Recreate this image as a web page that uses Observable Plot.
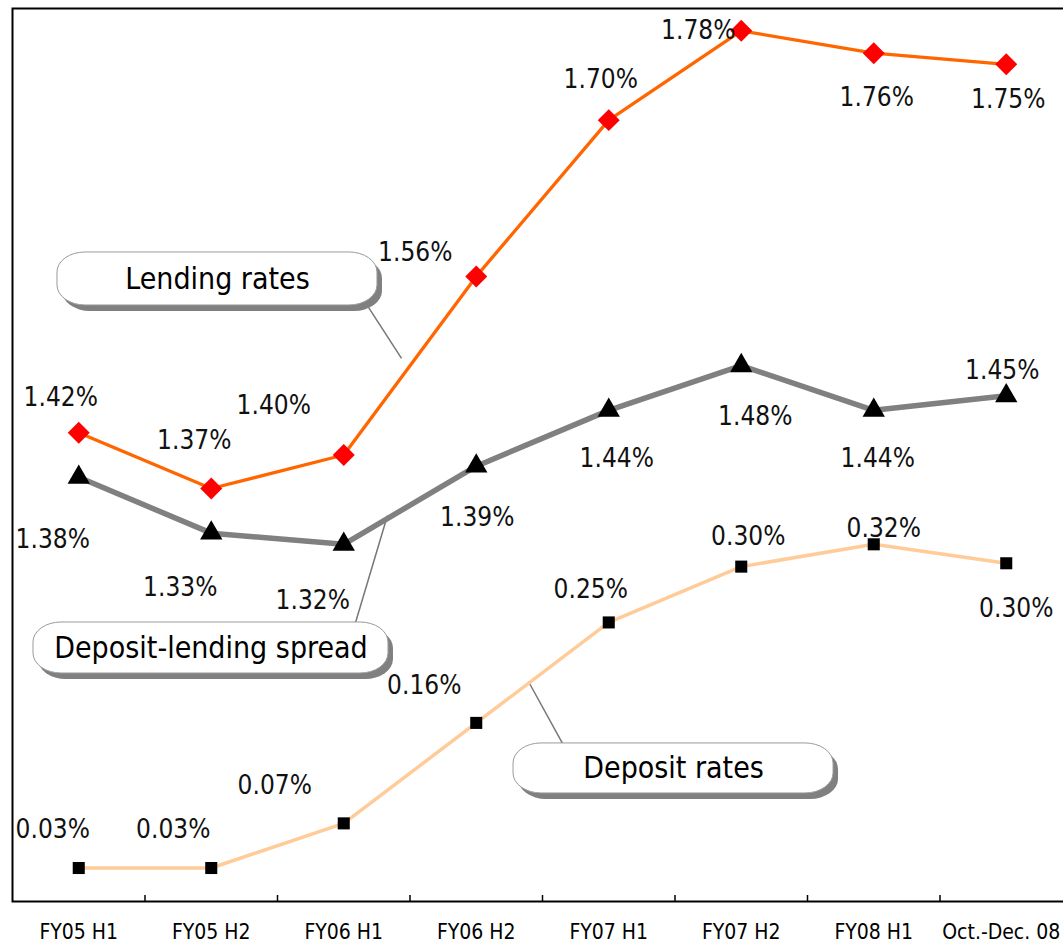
<!DOCTYPE html>
<html><head><meta charset="utf-8">
<script src="https://cdn.jsdelivr.net/npm/d3@7"></script>
<script src="https://cdn.jsdelivr.net/npm/@observablehq/plot@0.6"></script>
<style>
html,body{margin:0;padding:0;background:#fff;overflow:hidden}
#chart svg{display:block}
</style></head><body><div id="chart"></div>
<script>
// ---------------- data ----------------
const categories = ["FY05 H1","FY05 H2","FY06 H1","FY06 H2","FY07 H1","FY07 H2","FY08 H1","Oct.-Dec. 08"];
const lendingRates = [1.42, 1.37, 1.40, 1.56, 1.70, 1.78, 1.76, 1.75];
const depositLendingSpread = [1.38, 1.33, 1.32, 1.39, 1.44, 1.48, 1.44, 1.453];
const depositRates = [0.03, 0.03, 0.07, 0.16, 0.25, 0.30, 0.32, 0.303];
const seriesNames = ["Lending rates", "Deposit-lending spread", "Deposit rates"];
const primaryAxis = [1.0, 1.8];   // lending rates & spread
const secondaryAxis = [0.0, 0.8]; // deposit rates

// ---------------- layout (label nudges in px, callout anchors in data units) ----------------
const lendingLabelOffsets = [[-18,-35],[-17,-48],[-70,-49],[-61,-24],[-8,-40],[-43,0],[3,45],[2,35]];
const spreadLabelOffsets  = [[-26,62],[-31,55],[-31,56],[1,52],[8,48],[14,51],[4,48],[-4,-25]];
const depositLabelOffsets = [[-26,-38],[-38,-38],[-69,-38],[-52,-37],[-18,-33],[7,-30],[10,-16],[10,45]];

const toPrimary = v => v - secondaryAxis[0] + primaryAxis[0];

const series = [
  {name: seriesNames[0], values: lendingRates, map: v => v, stroke: "#FF6600", strokeWidth: 3.3,
   symbol: "diamond2", fill: "#FF0000", r: 9.9, offsets: lendingLabelOffsets},
  {name: seriesNames[1], values: depositLendingSpread, map: v => v, stroke: "#808080", strokeWidth: 5.5,
   symbol: "triangle", fill: "#000000", r: 8.3, offsets: spreadLabelOffsets},
  {name: seriesNames[2], values: depositRates, map: toPrimary, stroke: "#FFCC99", strokeWidth: 3.5,
   symbol: "square", fill: "#000000", r: 6.8, offsets: depositLabelOffsets}
];

const callouts = [
  {label: seriesNames[0], x: 1.047, y: 1.5577, w: 320, h: 53, from: [2.187, 1.5322], to: [2.436, 1.4865]},
  {label: seriesNames[1], x: 0.998, y: 1.2271, w: 355, h: 51, from: [2.089, 1.2500], to: [2.330, 1.3458]},
  {label: seriesNames[2], x: 4.489, y: toPrimary(0.1192), w: 320, h: 50,
   from: [3.651, toPrimary(0.1416)], to: [3.394, toPrimary(0.1971)]}
];

const FONT = "'DejaVu Sans Condensed', 'DejaVu Sans', sans-serif";
const fmt = v => v.toFixed(2) + "%";
const indices = categories.map((_, i) => i);
const boundaries = indices.slice(1).map(i => i - 0.5);
const lastIndex = indices[indices.length - 1];

const rows = series.flatMap(s => s.values.map((v, i) => ({
  series: s.name, i, value: v, y: s.map(v), dx: s.offsets[i][0], dy: s.offsets[i][1]
})));

const marks = [];
marks.push(Plot.frame({stroke: "black", strokeWidth: 2}));
marks.push(Plot.ruleX(boundaries, {x: d => d, y1: primaryAxis[0], y2: primaryAxis[0], insetTop: -6, stroke: "black", strokeWidth: 1.5}));
const axisText = {tickSize: 0, tickPadding: 23, tickFormat: i => categories[i], fontSize: 21, fill: "#000"};
marks.push(Plot.axisX(indices.slice(0, -1), axisText));
marks.push(Plot.axisX([lastIndex], {...axisText, dx: -5}));

// callout leaders
for (const c of callouts) {
  marks.push(Plot.link([c], {x1: d => d.from[0], y1: d => d.from[1], x2: d => d.to[0], y2: d => d.to[1],
    stroke: "#777", strokeWidth: 1.5}));
}
// series lines + markers
for (const s of series) {
  const data = rows.filter(r => r.series === s.name);
  marks.push(Plot.line(data, {x: "i", y: "y", stroke: s.stroke, strokeWidth: s.strokeWidth, strokeLinejoin: "round"}));
}
for (const s of series) {
  const data = rows.filter(r => r.series === s.name);
  marks.push(Plot.dot(data, {x: "i", y: "y", symbol: s.symbol, fill: s.fill, r: s.r, stroke: "none"}));
}
// value labels
for (const r of rows) {
  marks.push(Plot.text([r], {x: "i", y: "y", text: d => fmt(d.value), dx: r.dx, dy: r.dy,
    fontSize: 26, fill: "#111", textAnchor: "middle", lineAnchor: "middle"}));
}
// callout boxes
for (const c of callouts) {
  const box = {x1: "x", x2: "x", y1: "y", y2: "y",
    insetLeft: -c.w/2, insetRight: -c.w/2, insetTop: -c.h/2, insetBottom: -c.h/2, rx: 28, ry: 20};
  marks.push(Plot.rect([c], {...box, fill: "#808080", dx: 5, dy: 6}));
  marks.push(Plot.rect([c], {...box, fill: "white", stroke: "#9a9a9a", strokeWidth: 1}));
  marks.push(Plot.text([c], {x: "x", y: "y", text: "label", fontSize: 30, fill: "#000", lineAnchor: "middle"}));
}

const chart = Plot.plot({
  width: 1063, height: 945,
  marginTop: 8, marginBottom: 44, marginLeft: 12, marginRight: -9,
  x: {type: "linear", domain: [-0.5, 7.5]},
  y: {domain: primaryAxis, axis: null},
  style: {fontFamily: FONT, background: "white", color: "black"},
  marks
});
document.getElementById("chart").appendChild(chart);
</script></body></html>
